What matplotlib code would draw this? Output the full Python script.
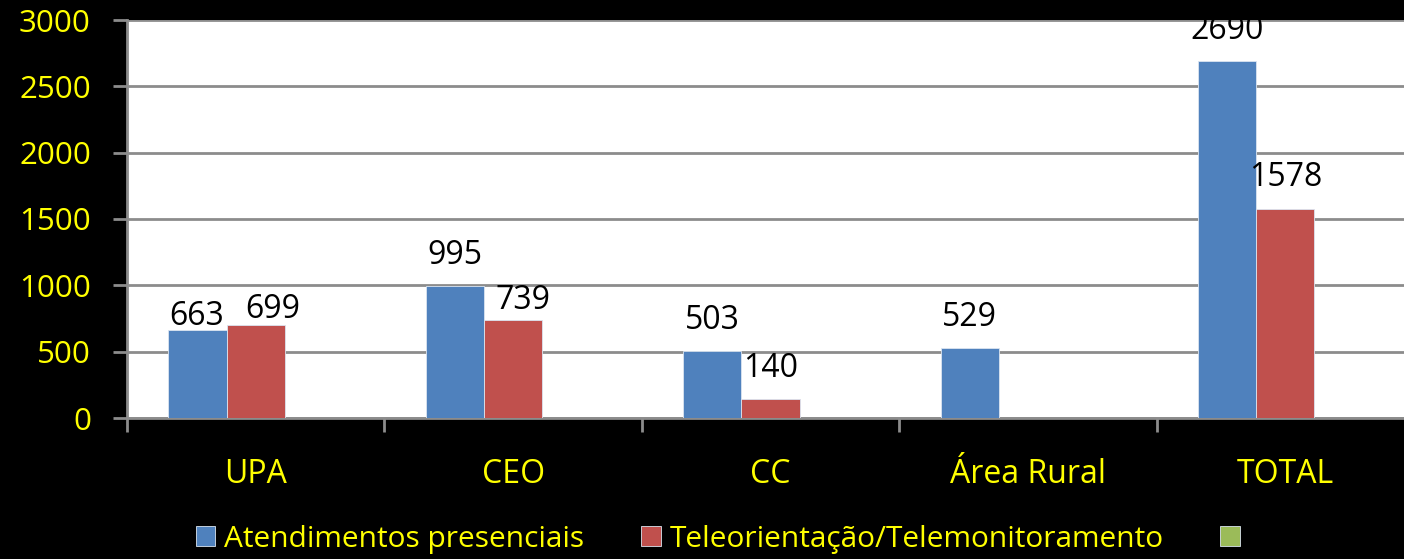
import numpy as np
import matplotlib
matplotlib.use("Agg")
import matplotlib.pyplot as plt

# Data
categories = ["UPA", "CEO", "CC", "Área Rural", "TOTAL"]
presenciais = [663, 995, 503, 529, 2690]
teleorientacao = [699, 739, 140, np.nan, 1578]
terceira = [np.nan, np.nan, np.nan, np.nan, np.nan]
series_names = ["Atendimentos presenciais", "Teleorientação/Telemonitoramento", ""]

# label nudges (series, category) -> (dx, dy) in points, default sits above bar
label_nudge = {(0, 0): (-1, 3.6), (1, 0): (12, 5), (1, 1): (7, 8)}

yellow = "#FFFF00"
colors = ["#4F81BD", "#C0504D", "#9BBB59"]
plt.rcParams["font.family"] = ["Open Sans", "DejaVu Sans"]

fig = plt.figure(figsize=(14.04, 5.59), dpi=100, facecolor="black")
ax = fig.add_axes([127 / 1404, 141 / 559, 1287 / 1404, 398 / 559])
ax.set_facecolor("white")

x = np.arange(len(categories))
w = 0.226
bars = []
for i, vals in enumerate([presenciais, teleorientacao, terceira]):
    b = ax.bar(x + (i - 1) * w, vals, w, color=colors[i], edgecolor="#dbe5f1",
               linewidth=0.6, label=series_names[i], zorder=3)
    bars.append(b)
    for j, v in enumerate(vals):
        if not np.isnan(v):
            dx, dy = label_nudge.get((i, j), (0, 16))
            ax.annotate(f"{v:g}", (x[j] + (i - 1) * w, v), xytext=(dx, dy),
                        textcoords="offset points", ha="center", va="baseline",
                        fontsize=23, color="black", clip_on=True, zorder=4)

# Axes styling
ax.set_xlim(-0.5, len(categories) - 0.5)
ax.set_ylim(0, 3000)
ax.set_yticks(np.arange(0, 3001, 500))
ax.yaxis.grid(True, color="#8c8c8c", linewidth=2, zorder=0)
ax.tick_params(axis="y", colors="#8c8c8c", length=10, width=2, pad=16,
               labelcolor=yellow, labelsize=22.5)

ax.set_xticks(np.arange(-0.5, len(categories)), minor=False)
ax.set_xticklabels([])
ax.set_xticks(x, minor=True)
ax.set_xticklabels(categories, minor=True)
ax.tick_params(axis="x", which="major", colors="#8c8c8c", length=10, width=2)
ax.tick_params(axis="x", which="minor", length=0, pad=29,
               labelcolor=yellow, labelsize=23)

for s in ["top", "right"]:
    ax.spines[s].set_visible(False)
for s in ["left", "bottom"]:
    ax.spines[s].set_color("#8c8c8c")
    ax.spines[s].set_linewidth(2)

# Legend
leg = fig.legend(handles=bars, labels=series_names, ncol=3, frameon=False,
                 loc="center left", bbox_to_anchor=(196 / 1404, 1 - 539 / 559),
                 fontsize=21.5, handlelength=0.65, handleheight=0.65,
                 handletextpad=0.3, columnspacing=1.9,
                 borderpad=0, borderaxespad=0)
for t in leg.get_texts():
    t.set_color(yellow)

fig.savefig("out.png", dpi=100, facecolor="black")
